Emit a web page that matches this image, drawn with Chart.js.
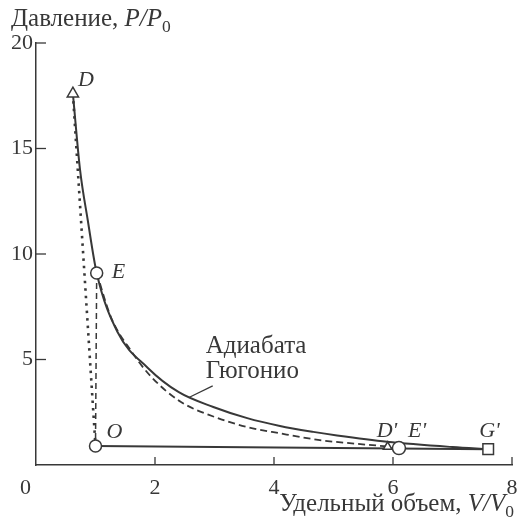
<!DOCTYPE html>
<html>
<head>
<meta charset="utf-8">
<script src="https://cdn.jsdelivr.net/npm/chart.js@4/dist/chart.umd.min.js"></script>
<style>
  html, body { margin: 0; padding: 0; background: #fff; }
  #wrap { width: 517px; height: 530px; position: relative; }
</style>
</head>
<body>
<div id="wrap"><canvas id="chart"></canvas></div>
<script>
// axis ticks
const xTickValues = [0, 2, 4, 6, 8];
const yTickValues = [0, 5, 10, 15, 20];

// Hugoniot adiabat (solid), from D through E down to G'
const hugoniotV = [0.62, 0.74, 0.87, 1.02, 1.37, 1.88, 2.4, 2.98, 3.55, 4.1, 4.66, 5.06, 5.9, 7.0, 7.6];
const hugoniotP = [17.6, 14.0, 11.6, 9.1, 6.3, 4.6, 3.45, 2.75, 2.22, 1.85, 1.57, 1.4, 1.1, 0.85, 0.75];

// dashed curve from E down to D'
const dashedV = [1.02, 1.26, 1.6, 1.93, 2.43, 2.98, 3.55, 4.1, 4.77, 5.49, 5.91];
const dashedP = [9.1, 7.0, 5.4, 4.2, 3.0, 2.3, 1.8, 1.5, 1.18, 0.98, 0.88];

// dotted line D - O
const doV = [0.62, 1.0];
const doP = [17.6, 0.9];

// dashed line E - O
const eoV = [1.02, 1.0];
const eoP = [9.1, 0.9];

// base line O - G'
const baseV = [1.0, 7.6];
const baseP = [0.9, 0.75];

// pointer of the "Адиабата Гюгонио" label
const pointerV = [2.57, 2.97];
const pointerP = [3.2, 3.75];

// marked states
const pointNames = ["D", "E", "O", "D'", "E'", "G'"];
const pointV = [0.62, 1.02, 1.0, 5.91, 6.1, 7.6];
const pointP = [17.6, 9.1, 0.9, 0.86, 0.8, 0.75];
const pointStyles = ["triangle", "circle", "circle", "triangle", "circle", "rect"];
const pointSizes = [6.5, 6, 6, 5, 6.5, 7.5];

const INK = "#383838";
const SERIF = "'Liberation Serif', 'DejaVu Serif', serif";

function pts(xs, ys) {
  return xs.map((x, i) => ({ x: x, y: ys[i] }));
}

// where each letter sits relative to its marker (left edge, baseline)
const labelOffset = {
  "D": [5, -8],
  "E": [15, 5],
  "O": [11, -8],
  "D'": [-11, -10],
  "E'": [9, -11],
  "G'": [-9, -12]
};

function drawRich(ctx, parts, x, y, size, align) {
  let total = 0;
  parts.forEach(p => {
    ctx.font = (p.italic ? "italic " : "") + (p.sub ? size * 0.7 : size) + "px " + SERIF;
    p.w = ctx.measureText(p.t).width;
    total += p.w;
  });
  let cx = align === "right" ? x - total : x;
  parts.forEach(p => {
    ctx.font = (p.italic ? "italic " : "") + (p.sub ? size * 0.7 : size) + "px " + SERIF;
    ctx.fillText(p.t, cx, p.sub ? y + size * 0.25 : y);
    cx += p.w;
  });
}

const decorPlugin = {
  id: "decor",
  afterDraw(chart) {
    const ctx = chart.ctx;
    const xs = chart.scales.x;
    const ys = chart.scales.y;
    const area = chart.chartArea;
    ctx.save();
    ctx.strokeStyle = INK;
    ctx.lineWidth = 1.3;
    // inner ticks
    xTickValues.forEach(v => {
      if (v === 0) return;
      const px = xs.getPixelForValue(v);
      ctx.beginPath();
      ctx.moveTo(px, area.bottom);
      ctx.lineTo(px, area.bottom - 8);
      ctx.stroke();
    });
    yTickValues.forEach(v => {
      if (v === 0) return;
      const py = ys.getPixelForValue(v);
      ctx.beginPath();
      ctx.moveTo(area.left, py);
      ctx.lineTo(area.left + 10, py);
      ctx.stroke();
    });

    ctx.fillStyle = INK;
    ctx.textBaseline = "alphabetic";
    // shared origin label
    ctx.font = "22px " + SERIF;
    ctx.textAlign = "right";
    ctx.fillText("0", area.left - 5, area.bottom + 29);
    ctx.textAlign = "left";

    // axis titles
    drawRich(ctx, [{ t: "Давление, " }, { t: "P/P", italic: true }, { t: "0", sub: true }], 11, 26, 25, "left");
    drawRich(ctx, [{ t: "Удельный объем, " }, { t: "V/V", italic: true }, { t: "0", sub: true }], 514, 511, 25, "right");

    // curve label
    ctx.font = "25px " + SERIF;
    const ax = xs.getPixelForValue(pointerV[1]);
    const ay = ys.getPixelForValue(pointerP[1]);
    ctx.fillText("Адиабата", ax - 7, ay - 33);
    ctx.fillText("Гюгонио", ax - 7, ay - 8);

    // point letters
    ctx.font = "italic 22px " + SERIF;
    ctx.textAlign = "left";
    pointNames.forEach((n, i) => {
      const px = xs.getPixelForValue(pointV[i]);
      const py = ys.getPixelForValue(pointP[i]);
      const off = labelOffset[n];
      ctx.fillText(n, px + off[0], py + off[1]);
    });
    ctx.restore();
  }
};

const lineBase = {
  showLine: true,
  pointRadius: 0,
  borderColor: INK,
  fill: false,
  order: 2
};

new Chart(document.getElementById("chart"), {
  type: "scatter",
  data: {
    datasets: [
      Object.assign({}, lineBase, {
        data: pts(hugoniotV, hugoniotP),
        borderWidth: 2,
        cubicInterpolationMode: "monotone"
      }),
      Object.assign({}, lineBase, {
        data: pts(dashedV, dashedP),
        borderWidth: 1.8,
        borderDash: [7, 4],
        cubicInterpolationMode: "monotone"
      }),
      Object.assign({}, lineBase, {
        data: pts(doV, doP),
        borderWidth: 2.6,
        borderDash: [2.5, 5]
      }),
      Object.assign({}, lineBase, {
        data: pts(eoV, eoP),
        borderWidth: 1.5,
        borderDash: [6, 4]
      }),
      Object.assign({}, lineBase, {
        data: pts(baseV, baseP),
        borderWidth: 2
      }),
      Object.assign({}, lineBase, {
        data: pts(pointerV, pointerP),
        borderWidth: 1.2
      }),
      {
        data: pts(pointV, pointP),
        showLine: false,
        pointStyle: pointStyles,
        pointRadius: pointSizes,
        pointBackgroundColor: "#fff",
        pointBorderColor: INK,
        pointBorderWidth: 1.5,
        order: 0
      }
    ]
  },
  options: {
    responsive: true,
    maintainAspectRatio: false,
    animation: false,
    layout: { autoPadding: false, padding: { top: 43, right: 5, left: 0, bottom: 0 } },
    plugins: { legend: { display: false }, tooltip: { enabled: false } },
    scales: {
      x: {
        type: "linear",
        min: 0,
        max: 8,
        afterBuildTicks: s => { s.ticks = xTickValues.map(v => ({ value: v })); },
        afterFit: s => { s.height = 65; s.paddingLeft = 0; s.paddingRight = 0; },
        ticks: {
          color: INK,
          padding: 10,
          font: { family: SERIF, size: 22 },
          callback: v => (v === 0 ? "" : v)
        },
        grid: { drawOnChartArea: false, drawTicks: false },
        border: { color: INK, width: 1.5 }
      },
      y: {
        type: "linear",
        min: 0,
        max: 20,
        afterBuildTicks: s => { s.ticks = yTickValues.map(v => ({ value: v })); },
        afterFit: s => { s.width = 36; s.paddingTop = 0; s.paddingBottom = 0; },
        ticks: {
          color: INK,
          padding: 3,
          font: { family: SERIF, size: 22 },
          callback: v => (v === 0 ? "" : v)
        },
        grid: { drawOnChartArea: false, drawTicks: false },
        border: { color: INK, width: 1.5 }
      }
    }
  },
  plugins: [decorPlugin]
});
</script>
</body>
</html>
